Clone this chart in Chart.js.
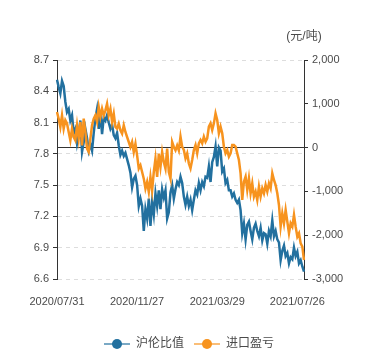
<!DOCTYPE html>
<html>
<head>
<meta charset="utf-8">
<script src="https://cdn.jsdelivr.net/npm/chart.js@4/dist/chart.umd.min.js"></script>
<style>
  html, body { margin: 0; padding: 0; background: #fff; }
  #wrap { width: 378px; height: 360px; }
</style>
</head>
<body>
<div id="wrap"><canvas id="graph" width="378" height="360"></canvas></div>
<script>
// values (one sample every ~1.7 trading days)
const ratio = [
  8.51, 8.44, 8.38, 8.50, 8.45, 8.30, 8.20, 8.23, 8.12, 8.17,
  8.00, 8.04, 7.90, 7.99, 8.12, 7.82, 7.91, 8.04, 7.95, 7.83,
  7.89, 7.83, 8.00, 8.14, 8.23, 8.04, 8.19, 7.99, 8.15, 8.12,
  8.17, 8.10, 8.04, 8.08, 7.98, 7.95, 8.00, 7.88, 7.79, 7.83,
  7.78, 7.81, 7.75, 7.69, 7.62, 7.48, 7.56, 7.59, 7.50, 7.30,
  7.37, 7.30, 7.06, 7.27, 7.18, 7.37, 7.11, 7.34, 7.22, 7.42,
  7.30, 7.45, 7.27, 7.46, 7.38, 7.45, 7.18, 7.24, 7.43, 7.50,
  7.37, 7.46, 7.53, 7.50,
  7.58, 7.52, 7.39, 7.31, 7.39, 7.30, 7.36, 7.26, 7.36, 7.45,
  7.41, 7.52, 7.45, 7.53, 7.49, 7.58, 7.57, 7.68, 7.53, 7.72,
  7.77, 7.87, 7.68, 7.86, 7.83, 7.63, 7.66, 7.52, 7.55, 7.45,
  7.45, 7.39, 7.42, 7.36, 7.33, 7.36, 7.26, 7.04, 7.13, 6.98,
  7.12, 7.15, 7.06, 6.98, 7.09, 7.13, 7.06, 7.01, 7.09, 6.97,
  7.04, 7.03, 6.94, 7.06, 7.01, 7.16, 7.01, 7.06, 6.98, 6.95,
  6.78, 6.87, 6.92, 6.82, 6.85, 6.75, 6.81, 6.79, 6.90, 6.82,
  6.86, 6.75, 6.78, 6.72, 6.67
];
const profit = [
  813, 660, 470, 737, 432, 623, 550, 356, 166, 432,
  242, 166, 509, 204, 585, 52, 660, 356, -25, -100,
  204, 509, 660, 737, 585, 927, 699, 888, 737, 850,
  1003, 737, 888, 585, 775, 470, 432, 546, 394, 318,
  509, 356, 242, 128, 14, 128, -100, 90, -176, -480,
  -404, -556, -709, -937, -785, -1013, -671, -975, -556, -252,
  -671, -138, -442, -100, -328, -480, -24, -556, -709, 128,
  14, -62, 52, -62,
  250, 20, -55, -245, -131, -359, -473, -283, -55, 59,
  -131, 98, 174, 98, 250, 136, 212, 477, 554, 401,
  554, 783, 630, 326, 477, 326, 21, -131, -55, -207,
  -131, 59, 59, 21, -131, -283, -587, -1196, -778, -663,
  -968, -701, -1044, -816, -1120, -1006, -1196, -892, -1120, -930,
  -1044, -854, -1006, -816, -930, -587, -739, -854, -1044, -1310,
  -1805, -1500, -1729, -1424, -1691, -1957, -1729, -1805, -1538, -1805,
  -2033, -1957, -2186, -2262, -2566
];
const seriesNames = ["沪伦比值", "进口盈亏"];
const tickLabels = ["2020/07/31", "2020/11/27", "2021/03/29", "2021/07/26"];
const tickEvery = 48;
const unitText = "(元/吨)";

const BLUE = "#22709f";
const ORANGE = "#f7931e";
const TEXT = "#4a4a4a";
const FONT = "'Liberation Sans', 'Noto Sans CJK SC', sans-serif";

const labels = ratio.map((v, i) => i);

function legendIcon(color) {
  const c = document.createElement("canvas");
  c.width = 26; c.height = 12;
  const g = c.getContext("2d");
  g.globalAlpha = 0.6;
  g.strokeStyle = color; g.lineWidth = 2;
  g.beginPath(); g.moveTo(0, 6); g.lineTo(26, 6); g.stroke();
  g.globalAlpha = 1;
  g.fillStyle = color;
  g.beginPath(); g.arc(13, 6, 5, 0, Math.PI * 2); g.fill();
  return c;
}

const unitPlugin = {
  id: "unit",
  afterDraw(chart) {
    const ctx = chart.ctx;
    ctx.save();
    ctx.font = "12px " + FONT;
    ctx.fillStyle = TEXT;
    ctx.textAlign = "center";
    ctx.textBaseline = "middle";
    ctx.fillText(unitText, chart.chartArea.right, chart.chartArea.top - 23);
    ctx.restore();
  }
};

const graph = document.getElementById("graph");
ctx = graph.getContext("2d");

let myChart = new Chart(ctx, {
  type: "line",
  data: {
    labels: labels,
    datasets: [
      { label: seriesNames[0], data: ratio, yAxisID: "y", borderColor: BLUE, backgroundColor: BLUE, borderWidth: 2.5, pointRadius: 0, tension: 0, order: 2 },
      { label: seriesNames[1], data: profit, yAxisID: "y1", borderColor: ORANGE, backgroundColor: ORANGE, borderWidth: 2.5, pointRadius: 0, tension: 0, order: 1 }
    ]
  },
  options: {
    responsive: false,
    animation: false,
    layout: { padding: { top: 60, left: 0, right: 0, bottom: 0 } },
    plugins: {
      tooltip: { enabled: false },
      legend: {
        position: "bottom",
        labels: {
          usePointStyle: true,
          pointStyleWidth: 26,
          padding: 10,
          color: TEXT,
          font: { family: FONT, size: 12 },
          generateLabels: chart => chart.data.datasets.map((ds, i) => ({
            text: ds.label,
            fillStyle: ds.borderColor,
            strokeStyle: ds.borderColor,
            fontColor: TEXT,
            lineWidth: 0,
            pointStyle: legendIcon(ds.borderColor),
            hidden: !chart.isDatasetVisible(i),
            datasetIndex: i
          }))
        }
      }
    },
    scales: {
      x: {
        type: "category",
        grid: { display: false },
        border: { display: false },
        afterFit: s => { s.height = 49; },
        ticks: {
          autoSkip: false,
          maxRotation: 0,
          padding: 8,
          color: TEXT,
          font: { family: FONT, size: 11 },
          callback: (v, i) => (i % tickEvery === 0 ? tickLabels[i / tickEvery] : null)
        }
      },
      y: {
        position: "left",
        min: 6.6,
        max: 8.7,
        afterFit: s => { s.width = 57; },
        border: { display: true, color: "#333", width: 1, dash: [4, 4] },
        grid: { color: "#ddd", tickColor: "#333", tickLength: 4, drawTicks: true },
        ticks: {
          stepSize: 0.3,
          padding: 4,
          color: TEXT,
          font: { family: FONT, size: 11 },
          callback: v => Number(v).toFixed(1)
        }
      },
      y1: {
        position: "right",
        min: -3000,
        max: 2000,
        afterFit: s => { s.width = 74; },
        border: { display: true, color: "#333", width: 1 },
        grid: {
          color: c => (c.tick && c.tick.value === 0 ? "#333" : "transparent"),
          tickColor: "#333",
          tickLength: 4
        },
        ticks: {
          stepSize: 1000,
          padding: 4,
          color: TEXT,
          font: { family: FONT, size: 11 },
          callback: v => Number(v).toLocaleString("en-US")
        }
      }
    }
  },
  plugins: [unitPlugin]
});
</script>
</body>
</html>
